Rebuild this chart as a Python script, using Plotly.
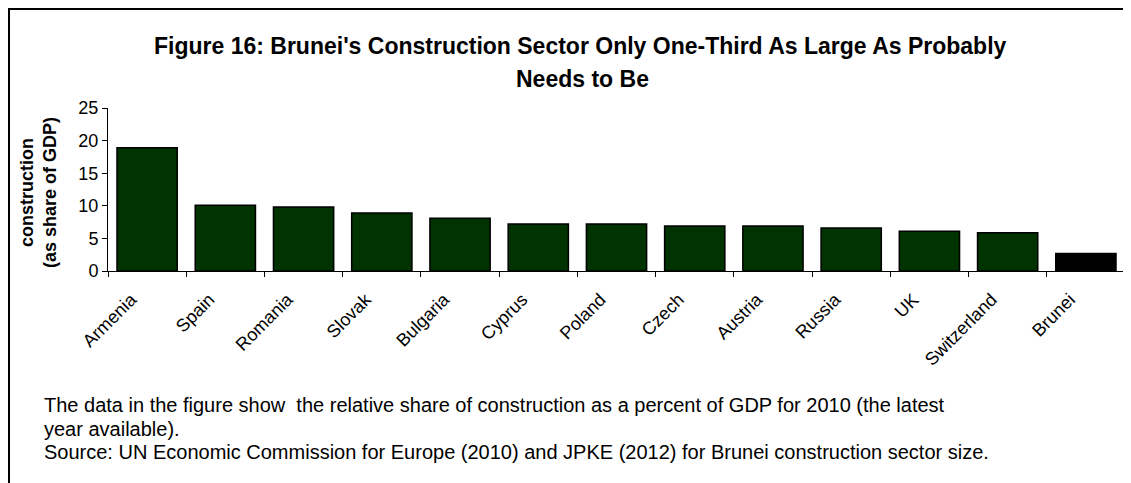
import plotly.graph_objects as go

countries = ["Armenia", "Spain", "Romania", "Slovak", "Bulgaria", "Cyprus", "Poland",
             "Czech", "Austria", "Russia", "UK", "Switzerland", "Brunei"]
values = [18.9, 10.1, 9.8, 8.9, 8.1, 7.2, 7.2, 6.9, 6.9, 6.6, 6.1, 5.85, 2.7]
bar_colors = ["#003300"] * 12 + ["#000000"]

title_lines = ["Figure 16: Brunei's Construction Sector Only One-Third As Large As Probably",
               "Needs to Be"]
y_title_lines = ["construction", "(as share of GDP)"]
notes = ["The data in the figure show  the relative share of construction as a percent of GDP for 2010 (the latest",
         "year available).",
         "Source: UN Economic Commission for Europe (2010) and JPKE (2012) for Brunei construction sector size."]

# page has an 8px body margin, so figure coords = screen coords - 8
W, H = 1123, 475
L, R, T, B = 100, 6, 100, 212
pw, ph = W - L - R, H - T - B


def px(x):
    return (x - L) / pw


def py(y):
    return (H - B - y) / ph


FONT = "Liberation Sans, Arial, sans-serif"

fig = go.Figure(go.Bar(
    x=countries, y=values,
    marker=dict(color=bar_colors, line=dict(color="#000000", width=1.5)),
    showlegend=False,
))

fig.update_layout(
    width=W, height=H,
    margin=dict(l=L, r=R, t=T, b=B, autoexpand=False),
    paper_bgcolor="white", plot_bgcolor="white",
    bargap=0.23,
    font=dict(family=FONT, color="black", size=16),
    xaxis=dict(type="category", showline=True, linecolor="black", linewidth=1,
               ticks="outside", tickson="boundaries", ticklen=5, tickcolor="black",
               tickangle=-45, tickfont=dict(size=18), showgrid=False,
               ticklabelshift=-16, ticklabelstandoff=10),
    yaxis=dict(range=[0, 25], dtick=5, showline=True, linecolor="black", linewidth=1,
               ticks="outside", ticklen=5, tickcolor="black", showgrid=False,
               tickfont=dict(size=18), zeroline=False),
)

annotations = [
    dict(text="<b>" + title_lines[0] + "</b>", x=px(572), y=py(38),
         xref="paper", yref="paper", xanchor="center", yanchor="middle",
         showarrow=False, font=dict(size=23, family=FONT)),
    dict(text="<b>" + title_lines[1] + "</b>", x=px(574), y=py(71),
         xref="paper", yref="paper", xanchor="center", yanchor="middle",
         showarrow=False, font=dict(size=23, family=FONT)),
    dict(text="<b>" + "<br>".join(y_title_lines) + "</b>", x=px(30), y=py(185),
         xref="paper", yref="paper", xanchor="center", yanchor="middle",
         textangle=-90, showarrow=False, font=dict(size=18, family=FONT)),
]
for i, line in enumerate(notes):
    annotations.append(dict(text=line, x=px(34), y=py(397 + i * 23.5),
                            xref="paper", yref="paper", xanchor="left", yanchor="middle",
                            showarrow=False, font=dict(size=20, family=FONT)))
fig.update_layout(annotations=annotations)

fig.add_shape(type="line", xref="paper", yref="paper", x0=px(0), x1=px(W + 2),
              y0=py(1), y1=py(1), line=dict(color="black", width=2))
fig.add_shape(type="line", xref="paper", yref="paper", x0=px(1), x1=px(1),
              y0=py(0), y1=py(H + 2), line=dict(color="black", width=2))

fig.write_html("out.html")
